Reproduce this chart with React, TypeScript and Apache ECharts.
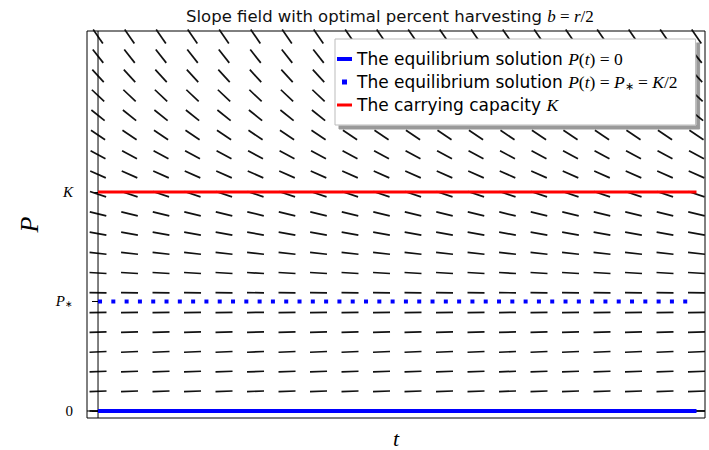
import React, { useEffect, useRef } from 'react';
import * as echarts from 'echarts';

// slope-field grid (t columns, P rows in units of K) and the slope read per row
const tColumns = [0, 1, 2, 3, 4, 5, 6, 7, 8, 9, 10, 11, 12, 13, 14, 15, 16, 17, 18, 19];
const pRows = [0, 0.09, 0.18, 0.27, 0.36, 0.45, 0.54, 0.63, 0.72, 0.81, 0.9, 0.99, 1.08, 1.17, 1.26, 1.35, 1.44, 1.53, 1.62, 1.71];
const rowSlopes = [0, 0.03, 0.04, 0.045, 0.035, 0.015, -0.015, -0.06, -0.11, -0.18, -0.25, -0.34, -0.44, -0.55, -0.67, -0.8, -0.95, -1.1, -1.27, -1.45];

// horizontal reference solutions
const tSpan = [0, 19];
const equilibriumZero = 0;
const equilibriumStar = 0.5;
const carryingCapacity = 1;

// y ticks
const yTickValues = [0, 0.5, 1];
const yTickLabels = ['{r|0}', '{i|P}{sub|∗}', '{i|K}'];

const legendNames = ['eq0', 'eqStar', 'cap'];
const legendTexts = [
  'The equilibrium solution {i|P}{r|(}{i|t}{r|) = 0}',
  'The equilibrium solution {i|P}{r|(}{i|t}{r|) = }{i|P}{sub|∗}{r| = }{i|K}{r|/2}',
  'The carrying capacity {i|K}',
];

const X_MIN = -0.35;
const X_MAX = 19.27;
const Y_MIN = -0.032;
const Y_MAX = 1.735;

const serif = 'Liberation Serif';
const makeRich = (size: number) => ({
  i: { fontFamily: serif, fontStyle: 'italic', fontSize: size, color: '#000' },
  r: { fontFamily: serif, fontSize: size, color: '#000' },
  sub: { fontFamily: serif, fontSize: Math.round(size * 0.62), color: '#000', verticalAlign: 'bottom', padding: [Math.round(size * 0.4), 0, 0, 0] },
});

export default function App() {
  const ref = useRef<HTMLDivElement>(null);
  useEffect(() => {
    if (!ref.current) return;
    const chart = echarts.init(ref.current, undefined, { renderer: 'svg' });

    const fieldData: number[][] = [];
    pRows.forEach((p, i) => {
      tColumns.forEach((t) => fieldData.push([t, p, rowSlopes[i]]));
    });

    const lineOf = (v: number) => [[tSpan[0], v], [tSpan[1], v]];

    chart.setOption({
      animation: false,
      title: {
        text: 'Slope field with optimal percent harvesting {i|b}{r| = }{i|r}{r|/2}',
        left: 181,
        top: 3,
        textStyle: {
          fontFamily: 'DejaVu Sans',
          fontSize: 16.5,
          fontWeight: 'normal',
          color: '#111',
          rich: makeRich(17),
        },
      },
      grid: {
        left: 87,
        top: 31,
        right: 4,
        bottom: 32,
        outerBoundsMode: 'none',
        containLabel: false,
        show: true,
        borderColor: '#000',
        borderWidth: 1,
        backgroundColor: '#fff',
      },
      xAxis: {
        type: 'value',
        min: X_MIN,
        max: X_MAX,
        axisLine: { show: false },
        axisTick: { show: false },
        axisLabel: { show: false },
        splitLine: { show: false },
        name: 't',
        nameLocation: 'middle',
        nameGap: 10,
        nameTextStyle: { fontFamily: serif, fontStyle: 'italic', fontSize: 22, lineHeight: 20, color: '#000' },
      },
      yAxis: {
        type: 'value',
        min: Y_MIN,
        max: Y_MAX,
        axisLine: { show: false },
        splitLine: { show: false },
        axisTick: {
          show: true,
          length: 6,
          customValues: yTickValues,
          lineStyle: { color: '#000', width: 1 },
        },
        axisLabel: {
          customValues: yTickValues,
          margin: 14,
          formatter: (v: number) => {
            const idx = yTickValues.findIndex((x) => Math.abs(x - v) < 1e-6);
            return idx >= 0 ? yTickLabels[idx] : '';
          },
          rich: makeRich(15),
        },
        name: 'P',
        nameLocation: 'middle',
        nameGap: 45,
        nameRotate: 90,
        nameTextStyle: { fontFamily: serif, fontStyle: 'italic', fontSize: 26, color: '#000' },
      },
      legend: {
        orient: 'vertical',
        left: 335,
        top: 39,
        padding: [11, 18, 11, 2],
        itemGap: 5,
        itemWidth: 15,
        itemHeight: 5,
        backgroundColor: '#fff',
        borderColor: '#bbb',
        borderWidth: 1,
        shadowColor: 'rgba(0,0,0,0.4)',
        shadowBlur: 0,
        shadowOffsetX: 4,
        shadowOffsetY: 4,
        data: [
          { name: legendNames[0], icon: 'path://M0,0h15v4h-15z', itemStyle: { color: '#0000ff', borderWidth: 0 } },
          { name: legendNames[1], icon: 'path://M0,0h1v1h-1z', itemStyle: { color: '#0000ff', borderWidth: 0 } },
          { name: legendNames[2], icon: 'path://M0,0h15v3h-15z', itemStyle: { color: '#ff0000', borderWidth: 0 } },
        ],
        formatter: (name: string) => legendTexts[legendNames.indexOf(name)],
        textStyle: {
          fontFamily: 'DejaVu Sans',
          fontSize: 17,
          color: '#000',
          rich: makeRich(17.5),
        },
      },
      series: [
        {
          type: 'custom',
          name: 'field',
          data: fieldData,
          z: 1,
          silent: true,
          renderItem: (_params: any, api: any) => {
            const c = api.coord([api.value(0), api.value(1)]);
            const a = Math.atan(api.value(2));
            const h = 8.5;
            const dx = Math.cos(a) * h;
            const dy = Math.sin(a) * h;
            return {
              type: 'line',
              shape: { x1: c[0] - dx, y1: c[1] + dy, x2: c[0] + dx, y2: c[1] - dy },
              style: { stroke: '#111', lineWidth: 1.7 },
            };
          },
        },
        {
          type: 'line',
          name: 'tAxis',
          data: [[0, Y_MIN], [0, Y_MAX]],
          symbol: 'none',
          silent: true,
          z: 2,
          lineStyle: { color: '#000', width: 1 },
        },
        {
          type: 'line',
          name: 'pAxis',
          data: [[X_MIN, 0], [X_MAX, 0]],
          symbol: 'none',
          silent: true,
          z: 2,
          lineStyle: { color: '#000', width: 1 },
        },
        {
          type: 'line',
          name: legendNames[0],
          data: lineOf(equilibriumZero),
          symbol: 'none',
          z: 3,
          color: '#0000ff',
          lineStyle: { color: '#0000ff', width: 4 },
        },
        {
          type: 'line',
          name: legendNames[1],
          data: lineOf(equilibriumStar),
          symbol: 'none',
          z: 3,
          color: '#0000ff',
          lineStyle: { color: '#0000ff', width: 4, type: [4, 9.3] },
        },
        {
          type: 'line',
          name: legendNames[2],
          data: lineOf(carryingCapacity),
          symbol: 'none',
          z: 3,
          color: '#ff0000',
          lineStyle: { color: '#ff0000', width: 3 },
        },
      ],
    });
    return () => chart.dispose();
  }, []);
  return <div ref={ref} style={{ position: 'absolute', left: 0, top: 0, width: 709, height: 450 }} />;
}
